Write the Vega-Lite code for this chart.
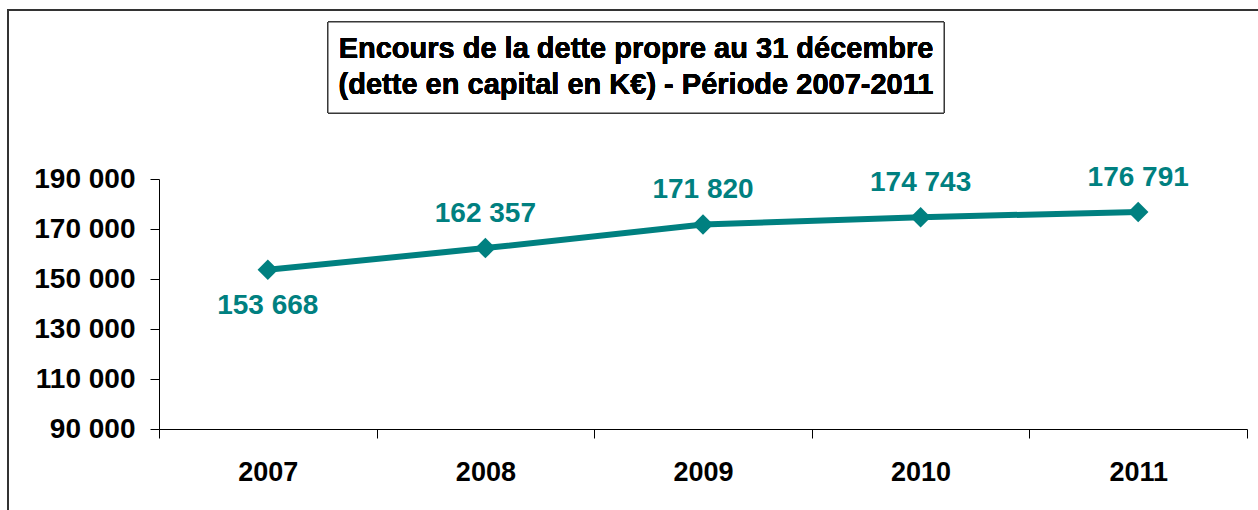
{
  "$schema": "https://vega.github.io/schema/vega-lite/v6.json",
  "autosize": "pad",
  "padding": {"left": 8, "top": 10, "right": 0, "bottom": 0},
  "background": "white",
  "width": 1260,
  "height": 505,
  "view": {"stroke": "#333", "strokeWidth": 2},
  "config": {
    "font": "Liberation Sans",
    "locale": {"number": {"decimal": ",", "thousands": " ", "grouping": [3], "currency": ["", " €"]}},
    "axis": {
      "grid": false,
      "title": null,
      "domainColor": "#000",
      "domainWidth": 1,
      "tickColor": "#000",
      "tickWidth": 1,
      "tickSize": 9,
      "labelFont": "Liberation Sans",
      "labelFontWeight": "bold",
      "labelColor": "#000"
    }
  },
  "data": {
    "values": [
      {"year": 2007, "value": 153668},
      {"year": 2008, "value": 162357},
      {"year": 2009, "value": 171820},
      {"year": 2010, "value": 174743},
      {"year": 2011, "value": 176791}
    ]
  },
  "encoding": {
    "x": {
      "field": "year",
      "type": "quantitative",
      "scale": {"domain": [2006.5, 2011.5], "range": [151, 1239], "nice": false, "zero": false},
      "axis": {
        "values": [2006.5, 2007.5, 2008.5, 2009.5, 2010.5, 2011.5],
        "labelExpr": "datum.value < 2011 ? format(datum.value + 0.5, 'd') : ''",
        "labelOffset": 108.8,
        "labelFontSize": 27,
        "labelPadding": 21,
        "labelFlush": false,
        "labelOverlap": false,
        "labelBound": false,
        "offset": -86
      }
    },
    "y": {
      "field": "value",
      "type": "quantitative",
      "scale": {"domain": [90000, 190000], "range": [419, 169], "nice": false, "zero": false},
      "axis": {
        "values": [90000, 110000, 130000, 150000, 170000, 190000],
        "format": ",.0f",
        "labelFontSize": 28,
        "labelPadding": 15,
        "labelOverlap": false,
        "labelFlush": false,
        "offset": -151
      }
    }
  },
  "layer": [
    {
      "mark": {"type": "rect", "fill": "white", "stroke": "#333", "strokeWidth": 1, "clip": false},
      "encoding": {
        "x": {"datum": 2007.2767, "type": "quantitative"},
        "x2": {"datum": 2010.1075},
        "y": {"datum": 252800, "type": "quantitative"},
        "y2": {"datum": 216400}
      }
    },
    {
      "mark": {
        "type": "text",
        "text": ["Encours de la dette propre au 31 décembre", "(dette en capital en K€) - Période 2007-2011"],
        "font": "Liberation Sans",
        "fontSize": 29,
        "fontWeight": "bold",
        "lineHeight": 36.5,
        "align": "center",
        "baseline": "alphabetic",
        "color": "#000",
        "clip": false
      },
      "encoding": {
        "x": {"datum": 2008.692, "type": "quantitative"},
        "y": {"datum": 238600, "type": "quantitative"}
      }
    },
    {"mark": {"type": "line", "color": "#008080", "strokeWidth": 6}},
    {"mark": {"type": "point", "shape": "diamond", "size": 420, "filled": true, "opacity": 1, "color": "#008080"}},
    {
      "transform": [{"filter": "datum.year != 2007"}],
      "mark": {"type": "text", "dy": -34, "fontSize": 28, "fontWeight": "bold", "color": "#008080", "baseline": "middle", "align": "center"},
      "encoding": {"text": {"field": "value", "type": "quantitative", "format": ",.0f"}}
    },
    {
      "transform": [{"filter": "datum.year == 2007"}],
      "mark": {"type": "text", "dy": 36, "fontSize": 28, "fontWeight": "bold", "color": "#008080", "baseline": "middle", "align": "center"},
      "encoding": {"text": {"field": "value", "type": "quantitative", "format": ",.0f"}}
    }
  ]
}
